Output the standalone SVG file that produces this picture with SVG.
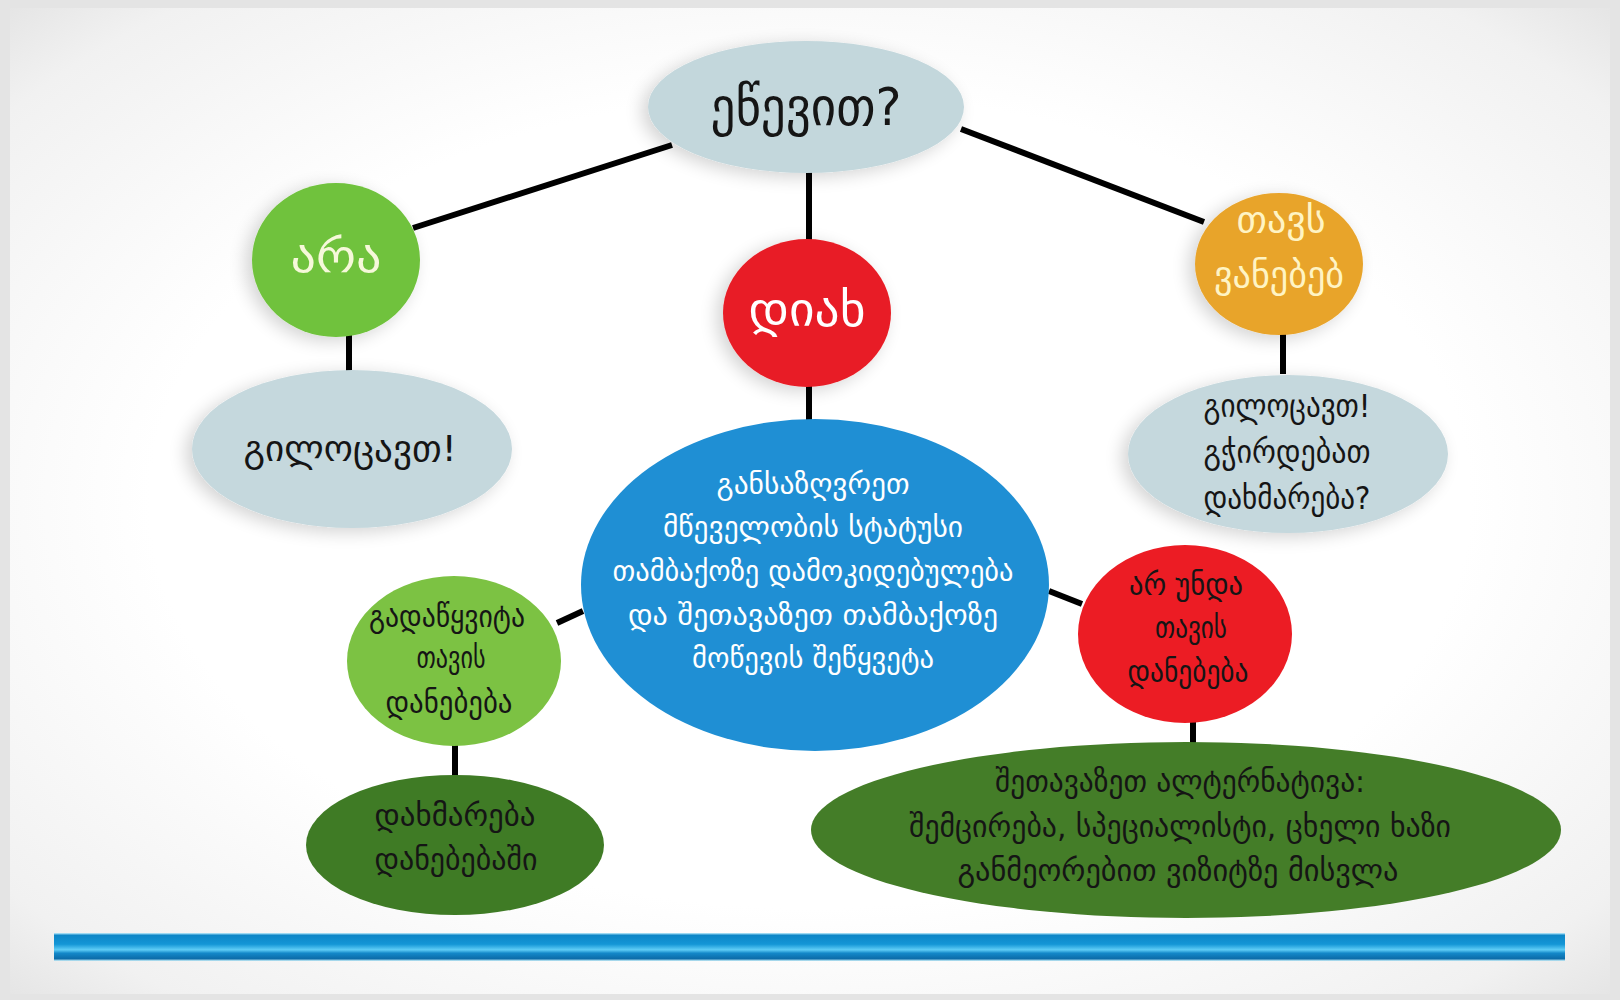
<svg xmlns="http://www.w3.org/2000/svg" width="1620" height="1000" viewBox="0 0 1620 1000">
<defs>
<radialGradient id="bg" cx="50%" cy="50%" r="75%">
<stop offset="0" stop-color="#ffffff"/>
<stop offset="0.55" stop-color="#ffffff"/>
<stop offset="0.85" stop-color="#f1f1f1"/>
<stop offset="1" stop-color="#dedede"/>
</radialGradient>
<linearGradient id="bar" x1="0" y1="0" x2="0" y2="1">
<stop offset="0" stop-color="#c6f1ff"/>
<stop offset="0.08" stop-color="#0d86c7"/>
<stop offset="0.4" stop-color="#1496d6"/>
<stop offset="0.6" stop-color="#5fcdf6"/>
<stop offset="0.72" stop-color="#1388c9"/>
<stop offset="0.92" stop-color="#0c6ca9"/>
<stop offset="1" stop-color="#d2f6ff"/>
</linearGradient>
<filter id="sh" x="-30%" y="-30%" width="160%" height="160%">
<feGaussianBlur in="SourceAlpha" stdDeviation="9"/>
<feOffset dx="-6" dy="4" result="b"/>
<feComponentTransfer><feFuncA type="linear" slope="0.18"/></feComponentTransfer>
<feMerge><feMergeNode/><feMergeNode in="SourceGraphic"/></feMerge>
</filter>
</defs>
<style>
.t{font-family:"DejaVu Sans Condensed","DejaVu Sans",sans-serif;text-anchor:middle;fill:#151515}
.w{fill:#ffffff}
.y{fill:#f6f8da}
.o{fill:#fff4c4}
.c line{stroke:#000;stroke-width:6;stroke-linecap:butt}
</style>
<rect x="0" y="0" width="1620" height="1000" fill="#e4e4e4"/>
<rect x="10" y="8" width="1600" height="986" fill="url(#bg)"/>
<rect x="54" y="933" width="1511" height="28" fill="url(#bar)"/>

<g id="connectors" class="c">
<line x1="413" y1="228" x2="672" y2="145"/>
<line x1="809" y1="172" x2="809" y2="242"/>
<line x1="961" y1="129" x2="1204" y2="222"/>
<line x1="349" y1="335" x2="349" y2="372"/>
<line x1="1283" y1="333" x2="1283" y2="374"/>
<line x1="809" y1="385" x2="809" y2="420"/>
<line x1="557" y1="623" x2="583" y2="611"/>
<line x1="1049" y1="591" x2="1082" y2="604"/>
<line x1="455" y1="744" x2="455" y2="777"/>
<line x1="1193" y1="721" x2="1193" y2="744"/>
</g>

<g id="q">
<ellipse cx="806" cy="107" rx="158" ry="66" fill="#c3d7dc" filter="url(#sh)"/>
<text class="t" x="806" y="125" font-size="52" textLength="191" lengthAdjust="spacingAndGlyphs">ეწევით?</text>
</g>

<g id="no">
<ellipse cx="336" cy="260" rx="84" ry="77" fill="#6fc23c" filter="url(#sh)"/>
<text class="t y" x="336" y="272" font-size="46" textLength="91" lengthAdjust="spacingAndGlyphs">არა</text>
</g>

<g id="yes">
<ellipse cx="807" cy="313" rx="84" ry="74" fill="#e81f26" filter="url(#sh)"/>
<text class="t w" x="807" y="326" font-size="48" textLength="117" lengthAdjust="spacingAndGlyphs">დიახ</text>
</g>

<g id="quitting">
<ellipse cx="1279" cy="264" rx="84" ry="71" fill="#e8a42c" filter="url(#sh)"/>
<text class="t o" x="1281" y="232" font-size="36" textLength="89" lengthAdjust="spacingAndGlyphs">თავს</text>
<text class="t o" x="1279" y="287" font-size="36" textLength="130" lengthAdjust="spacingAndGlyphs">ვანებებ</text>
</g>

<g id="congrats-left">
<ellipse cx="352" cy="449" rx="160" ry="79" fill="#c5d8dd" filter="url(#sh)"/>
<text class="t" x="350" y="461" font-size="36" textLength="213" lengthAdjust="spacingAndGlyphs">გილოცავთ!</text>
</g>

<g id="congrats-right">
<ellipse cx="1288" cy="454" rx="160" ry="79" fill="#c5d8dd" filter="url(#sh)"/>
<text class="t" x="1287" y="417" font-size="32" textLength="167" lengthAdjust="spacingAndGlyphs">გილოცავთ!</text>
<text class="t" x="1287" y="463" font-size="32" textLength="167" lengthAdjust="spacingAndGlyphs">გჭირდებათ</text>
<text class="t" x="1287" y="509" font-size="32" textLength="167" lengthAdjust="spacingAndGlyphs">დახმარება?</text>
</g>

<g id="assess">
<ellipse cx="815" cy="585" rx="234" ry="166" fill="#1f8fd4"/>
<text class="t w" x="813" y="494" font-size="29" textLength="193" lengthAdjust="spacingAndGlyphs">განსაზღვრეთ</text>
<text class="t w" x="813" y="537" font-size="29" textLength="300" lengthAdjust="spacingAndGlyphs">მწეველობის სტატუსი</text>
<text class="t w" x="813" y="581" font-size="29" textLength="401" lengthAdjust="spacingAndGlyphs">თამბაქოზე დამოკიდებულება</text>
<text class="t w" x="813" y="625" font-size="29" textLength="370" lengthAdjust="spacingAndGlyphs">და შეთავაზეთ თამბაქოზე</text>
<text class="t w" x="813" y="668" font-size="29" textLength="242" lengthAdjust="spacingAndGlyphs">მოწევის შეწყვეტა</text>
</g>

<g id="decided">
<ellipse cx="454" cy="661" rx="107" ry="85" fill="#7cc243"/>
<text class="t" x="447" y="627" font-size="30" textLength="156" lengthAdjust="spacingAndGlyphs">გადაწყვიტა</text>
<text class="t" x="451" y="668" font-size="30" textLength="69" lengthAdjust="spacingAndGlyphs">თავის</text>
<text class="t" x="449" y="713" font-size="30" textLength="127" lengthAdjust="spacingAndGlyphs">დანებება</text>
</g>

<g id="help">
<ellipse cx="455" cy="845" rx="149" ry="70" fill="#3f7b25"/>
<text class="t" x="455" y="826" font-size="30" textLength="161" lengthAdjust="spacingAndGlyphs">დახმარება</text>
<text class="t" x="456" y="870" font-size="30" textLength="163" lengthAdjust="spacingAndGlyphs">დანებებაში</text>
</g>

<g id="notwant">
<ellipse cx="1185" cy="634" rx="107" ry="89" fill="#ec1c24"/>
<text class="t" x="1186" y="595" font-size="30" textLength="114" lengthAdjust="spacingAndGlyphs">არ უნდა</text>
<text class="t" x="1191" y="638" font-size="30" textLength="72" lengthAdjust="spacingAndGlyphs">თავის</text>
<text class="t" x="1188" y="682" font-size="30" textLength="121" lengthAdjust="spacingAndGlyphs">დანებება</text>
</g>

<g id="alternatives">
<ellipse cx="1186" cy="830" rx="375" ry="88" fill="#447d28"/>
<text class="t" x="1180" y="792" font-size="30" textLength="370" lengthAdjust="spacingAndGlyphs">შეთავაზეთ ალტერნატივა:</text>
<text class="t" x="1180" y="837" font-size="30" textLength="542" lengthAdjust="spacingAndGlyphs">შემცირება, სპეციალისტი, ცხელი ხაზი</text>
<text class="t" x="1178" y="881" font-size="30" textLength="441" lengthAdjust="spacingAndGlyphs">განმეორებით ვიზიტზე მისვლა</text>
</g>
</svg>
